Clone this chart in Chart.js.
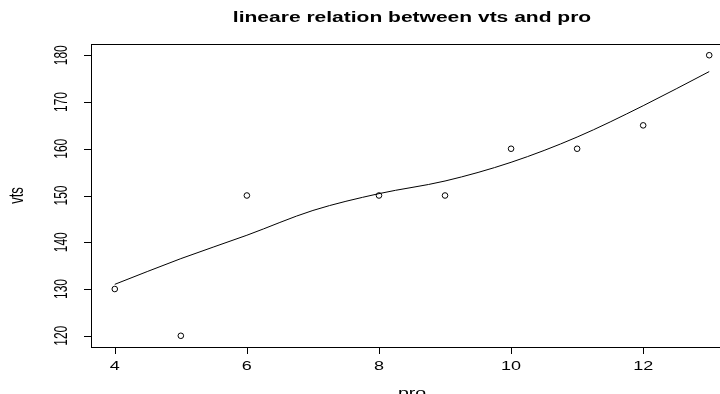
<!DOCTYPE html>
<html>
<head>
<meta charset="utf-8">
<script src="https://cdn.jsdelivr.net/npm/chart.js@4/dist/chart.umd.min.js"></script>
<style>
  html, body { margin: 0; padding: 0; background: #fff; }
  #wrap { width: 720px; height: 394px; overflow: hidden; position: relative; }
  canvas { display: block; }
</style>
</head>
<body>
<div id="wrap"><canvas id="chart" width="745" height="394"></canvas></div>
<script>
// observed points
const proValues = [4, 5, 6, 8, 9, 10, 11, 12, 13];
const vtsValues = [130, 120, 150, 150, 150, 160, 160, 165, 180];

// smoothed line
const fitPro = [4, 5, 6, 7, 8, 9, 10, 11, 12, 13];
const fitVts = [131, 136.5, 141.5, 146.8, 150.4, 153.1, 157.1, 162.5, 169.2, 176.5];

const xTicks = [4, 6, 8, 10, 12];
const yTicks = [120, 130, 140, 150, 160, 170, 180];

const FONT = '"Liberation Sans", Arial, sans-serif';
const STRETCH = 1.5; // the original device draws text wide

function wideText(ctx, text, x, y, rotated) {
  ctx.save();
  ctx.translate(x, y);
  ctx.scale(STRETCH, 1);
  if (rotated) ctx.rotate(-Math.PI / 2);
  ctx.fillText(text, 0, 0);
  ctx.restore();
}

// R style box, axes and labels
const baseAxes = {
  id: 'baseAxes',
  afterDraw(chart) {
    const { ctx, chartArea: a, scales } = chart;
    const sx = scales.x, sy = scales.y;
    ctx.save();
    ctx.strokeStyle = '#000';
    ctx.lineWidth = 1;
    ctx.strokeRect(a.left + 0.5, a.top + 0.5, a.right - a.left, a.bottom - a.top);

    // x axis
    ctx.beginPath();
    ctx.moveTo(sx.getPixelForValue(xTicks[0]), a.bottom + 0.5);
    ctx.lineTo(sx.getPixelForValue(xTicks[xTicks.length - 1]), a.bottom + 0.5);
    xTicks.forEach(t => {
      const px = Math.round(sx.getPixelForValue(t)) + 0.5;
      ctx.moveTo(px, a.bottom);
      ctx.lineTo(px, a.bottom + 7);
    });
    ctx.stroke();
    ctx.fillStyle = '#000';
    ctx.font = '12px ' + FONT;
    ctx.textAlign = 'center';
    ctx.textBaseline = 'middle';
    xTicks.forEach(t => wideText(ctx, String(t), sx.getPixelForValue(t), 367, false));

    // y axis
    ctx.beginPath();
    ctx.moveTo(a.left + 0.5, sy.getPixelForValue(yTicks[0]));
    ctx.lineTo(a.left + 0.5, sy.getPixelForValue(yTicks[yTicks.length - 1]));
    yTicks.forEach(t => {
      const py = Math.round(sy.getPixelForValue(t)) + 0.5;
      ctx.moveTo(a.left, py);
      ctx.lineTo(a.left - 7, py);
    });
    ctx.stroke();
    yTicks.forEach(t => wideText(ctx, String(t), 62, sy.getPixelForValue(t), true));

    // axis titles
    ctx.font = '13px ' + FONT;
    wideText(ctx, 'pro', (a.left + a.right) / 2, 393, false);
    wideText(ctx, 'vts', 18, (a.top + a.bottom) / 2, true);

    // main title
    ctx.font = 'bold 14px ' + FONT;
    wideText(ctx, 'lineare relation between vts and pro', (a.left + a.right) / 2, 18, false);
    ctx.restore();
  }
};

new Chart(document.getElementById('chart'), {
  type: 'scatter',
  data: {
    datasets: [
      {
        label: 'vts',
        data: proValues.map((x, i) => ({ x, y: vtsValues[i] })),
        pointStyle: 'circle',
        pointRadius: 2.8,
        pointHoverRadius: 2.8,
        borderColor: '#000',
        backgroundColor: 'rgba(0,0,0,0)',
        borderWidth: 1,
        showLine: false
      },
      {
        label: 'fit',
        data: fitPro.map((x, i) => ({ x, y: fitVts[i] })),
        showLine: true,
        pointRadius: 0,
        borderColor: '#000',
        borderWidth: 1,
        cubicInterpolationMode: 'monotone'
      }
    ]
  },
  options: {
    responsive: false,
    devicePixelRatio: 1,
    animation: false,
    events: [],
    layout: { padding: { left: 91, right: 12, top: 44, bottom: 47 } },
    plugins: { legend: { display: false }, tooltip: { enabled: false }, title: { display: false } },
    scales: {
      x: { type: 'linear', min: 3.64, max: 13.36, display: false },
      y: { type: 'linear', min: 117.6, max: 182.4, display: false }
    }
  },
  plugins: [baseAxes]
});
</script>
</body>
</html>
